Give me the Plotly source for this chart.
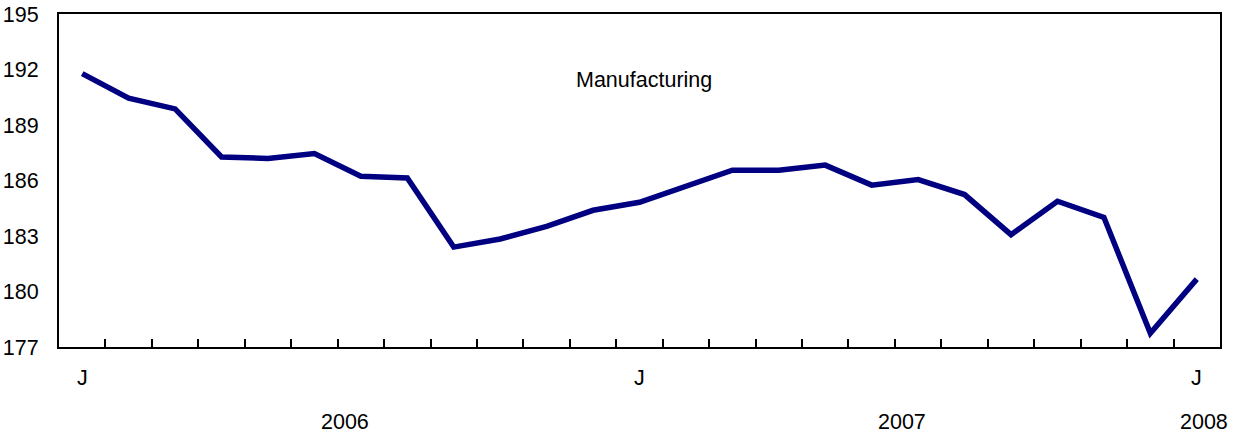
import plotly.graph_objects as go

months = list(range(25))
values = [191.78, 190.45, 189.87, 187.27, 187.19, 187.46, 186.23, 186.14,
          182.40, 182.84, 183.52, 184.39, 184.82, 185.66, 186.56, 186.55,
          186.83, 185.75, 186.05, 185.24, 183.07, 184.88, 184.01, 177.74, 180.67]
month_label_pos = [0, 12, 24]
month_labels = ["J", "J", "J"]
year_label_pos = [5.5, 17.5, 24]
year_labels = ["2006", "2007", "2008"]
series_name = "Manufacturing"

FONT = "Liberation Sans, Arial, Helvetica, sans-serif"
FS = 21.5

fig = go.Figure()
fig.add_trace(go.Scatter(x=months, y=values, mode="lines",
                         line=dict(color="#000080", width=5.5),
                         name=series_name, showlegend=False))

annotations = []
for p, t in zip(month_label_pos, month_labels):
    annotations.append(dict(x=p, y=0, xref="x", yref="paper", text=t,
                            showarrow=False, yanchor="top", yshift=-17,
                            font=dict(family=FONT, size=FS, color="black")))
for p, t in zip(year_label_pos, year_labels):
    annotations.append(dict(x=p, y=0, xref="x", yref="paper", text=t,
                            showarrow=False, yanchor="top", yshift=-61, xshift=7,
                            font=dict(family=FONT, size=FS, color="black")))
annotations.append(dict(x=12.1, y=191.45, xref="x", yref="y", text=series_name,
                        showarrow=False,
                        font=dict(family=FONT, size=FS, color="black")))

fig.update_layout(
    width=1233, height=433,
    margin=dict(l=59, r=13, t=14, b=86, autoexpand=False),
    plot_bgcolor="white", paper_bgcolor="white",
    font=dict(family=FONT, size=FS, color="black"),
    annotations=annotations,
    xaxis=dict(range=[-0.5, 24.5], showgrid=False, zeroline=False,
               showline=True, linecolor="black", linewidth=2, mirror=True,
               tickmode="array", tickvals=[i + 0.5 for i in range(24)],
               showticklabels=False, ticks="inside", ticklen=8,
               tickwidth=2, tickcolor="black", automargin=False),
    yaxis=dict(range=[177, 195], dtick=3, tick0=177, showgrid=False,
               zeroline=False, showline=True, linecolor="black", linewidth=2,
               mirror=True, ticks="", ticklabelstandoff=14, automargin=False,
               tickfont=dict(family=FONT, size=FS, color="black")),
)

fig.write_html(
    "out.html",
    config={"displayModeBar": False},
    post_script="document.body.style.margin='0';document.body.style.overflow='hidden';",
)
